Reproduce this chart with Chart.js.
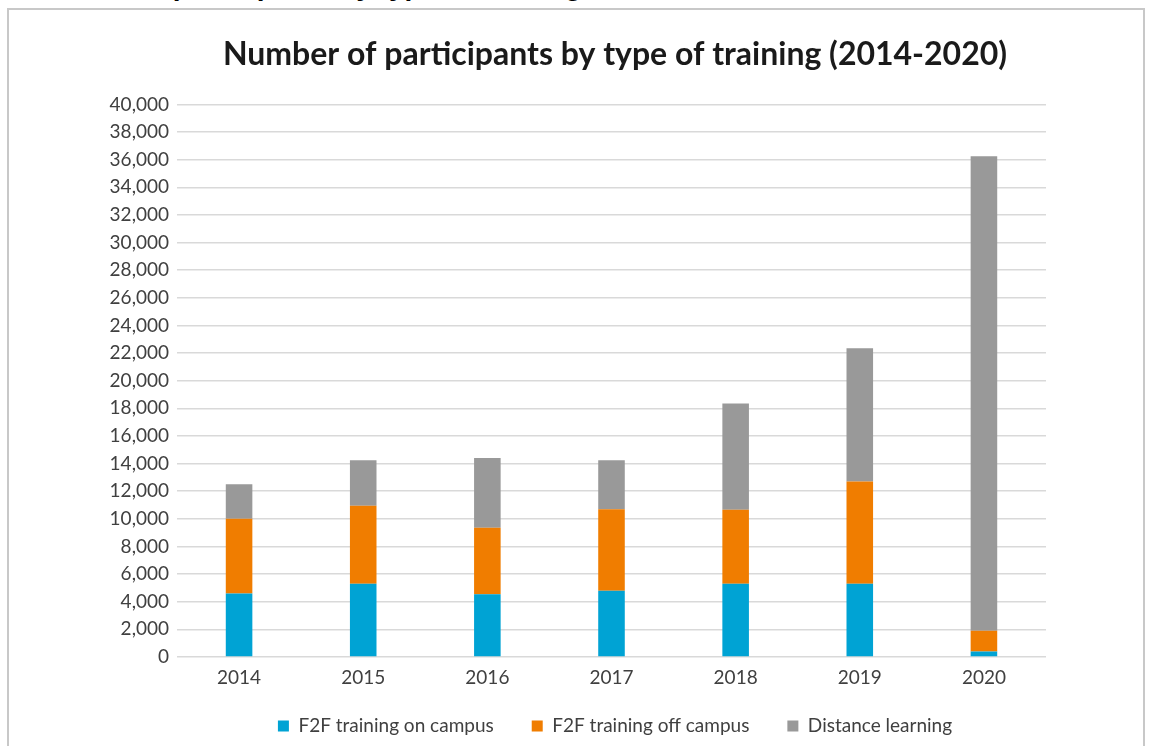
<!DOCTYPE html>
<html>
<head>
<meta charset="utf-8">
<script src="https://cdn.jsdelivr.net/npm/chart.js@4"></script>
<style>
  html, body { margin: 0; padding: 0; background: #fff; overflow: hidden; }
  #cut {
    position: absolute; left: 25px; top: -28px;
    font: bold 28px "Liberation Sans", Arial, sans-serif; line-height: 28px;
    color: #000; white-space: nowrap;
  }
  #wrap { position: absolute; left: 9px; top: 10px; width: 1212px; height: 754px; }
  #frame {
    position: absolute; left: 7px; top: 8px; width: 1134px; height: 760px;
    border: 2px solid #c8c8c8; pointer-events: none;
  }
</style>
</head>
<body>
<div id="cut">Number of participants by type of training</div>
<div id="wrap"><canvas id="chart"></canvas></div>
<div id="frame"></div>
<script>
const years = ['2014', '2015', '2016', '2017', '2018', '2019', '2020'];
const onCampus = [4600, 5300, 4550, 4800, 5300, 5300, 400];
const offCampus = [5400, 5650, 4800, 5900, 5350, 7400, 1500];
const distance = [2500, 3300, 5050, 3550, 7700, 9650, 34350];

const tickFont = { family: 'Lato, "Open Sans", sans-serif', size: 19 };

// legend keeps wide gaps between items but sits closer to the axis
const legendNudge = {
  id: 'legendNudge',
  afterLayout(chart) {
    chart.legend.top -= 18.5;
    chart.legend.bottom -= 18.5;
  }
};

const ctx = document.getElementById('chart').getContext('2d');
new Chart(ctx, {
  type: 'bar',
  data: {
    labels: years,
    datasets: [
      { label: 'F2F training on campus', data: onCampus, backgroundColor: '#00a3d4' },
      { label: 'F2F training off campus', data: offCampus, backgroundColor: '#f07d00' },
      { label: 'Distance learning', data: distance, backgroundColor: '#999999' }
    ]
  },
  plugins: [legendNudge],
  options: {
    responsive: true,
    maintainAspectRatio: false,
    animation: false,
    datasets: {
      bar: { barPercentage: 0.214, categoryPercentage: 1.0 }
    },
    layout: { padding: 0 },
    plugins: {
      tooltip: { enabled: false },
      title: {
        display: true,
        text: 'Number of participants by type of training (2014-2020)',
        color: '#1a1a1a',
        font: { family: 'Lato, sans-serif', size: 32, weight: 'bold' },
        padding: { top: 25, bottom: 31 }
      },
      legend: {
        position: 'bottom',
        labels: {
          color: '#404040',
          font: tickFont,
          boxWidth: 11,
          boxHeight: 11,
          padding: 38
        }
      }
    },
    scales: {
      x: {
        stacked: true,
        grid: { display: false, drawTicks: false },
        border: { display: false },
        ticks: { color: '#404040', font: tickFont, padding: 9 },
        afterFit: s => { s.height = 40; }
      },
      y: {
        stacked: true,
        min: 0,
        max: 40000,
        border: { display: false },
        grid: { color: '#d9d9d9', lineWidth: 1.5, drawTicks: false },
        ticks: { stepSize: 2000, color: '#404040', font: tickFont, padding: 8 },
        afterFit: s => { s.width = 168; }
      },
      // empty right-hand axis, only keeps the plot narrower than the canvas
      y2: {
        position: 'right',
        grid: { display: false },
        border: { display: false },
        ticks: { display: false },
        afterFit: s => { s.width = 175; }
      }
    }
  }
});
</script>
</body>
</html>
